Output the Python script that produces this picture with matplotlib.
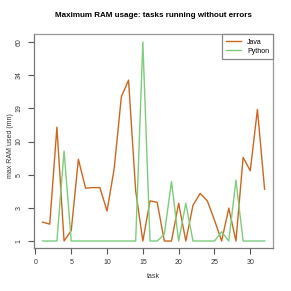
"""
Maximum RAM usage per task, Java vs Python (R-style base plot look).
"""
import numpy as np
import matplotlib
matplotlib.use("Agg")
import matplotlib.pyplot as plt

plt.rcParams["font.family"] = ["Liberation Sans", "DejaVu Sans"]

# data
tasks = np.arange(1, 33)
java_ram = [1.87, 1.75, 13.2, 1.0, 1.41, 6.9, 4.06, 4.1, 4.1, 2.7,
            5.7, 23.3, 31.2, 3.9, 1.0, 3.34, 3.27, 1.0, 1.0, 3.22,
            1.0, 3.12, 3.75, 3.34, 2.0, 1.0, 2.97, 1.0, 7.17, 5.43,
            18.6, 4.0]
python_ram = [1.0, 1.0, 1.0, 8.2, 1.0, 1.0, 1.0, 1.0, 1.0, 1.0,
              1.0, 1.0, 1.0, 1.0, 60.0, 1.0, 1.0, 1.25, 4.5, 1.0,
              3.22, 1.0, 1.0, 1.0, 1.0, 1.36, 1.0, 4.6, 1.0, 1.0,
              1.0, 1.0]
y_ticks = [1, 3, 5, 10, 19, 34, 60]
x_ticks = [0, 5, 10, 15, 20, 25, 30]

JAVA_COLOR = "#CD661D"
PYTHON_COLOR = "#7CCD7C"

# the y labels are evenly spaced, so map log(value) piecewise onto tick index
log_ticks = np.log(y_ticks)
idx = np.arange(len(y_ticks), dtype=float)


def fwd(v):
    v = np.clip(np.asarray(v, dtype=float), 1e-3, None)
    lv = np.log(v)
    out = np.interp(lv, log_ticks, idx)
    # linear extension outside the tick range
    lo = lv < log_ticks[0]
    hi = lv > log_ticks[-1]
    s_lo = (idx[1] - idx[0]) / (log_ticks[1] - log_ticks[0])
    s_hi = (idx[-1] - idx[-2]) / (log_ticks[-1] - log_ticks[-2])
    out = np.where(lo, idx[0] + (lv - log_ticks[0]) * s_lo, out)
    out = np.where(hi, idx[-1] + (lv - log_ticks[-1]) * s_hi, out)
    return out


def inv(t):
    t = np.asarray(t, dtype=float)
    lv = np.interp(t, idx, log_ticks)
    s_lo = (log_ticks[1] - log_ticks[0]) / (idx[1] - idx[0])
    s_hi = (log_ticks[-1] - log_ticks[-2]) / (idx[-1] - idx[-2])
    lv = np.where(t < idx[0], log_ticks[0] + (t - idx[0]) * s_lo, lv)
    lv = np.where(t > idx[-1], log_ticks[-1] + (t - idx[-1]) * s_hi, lv)
    return np.exp(lv)


fig = plt.figure(figsize=(2.91, 2.91), dpi=100)
ax = fig.add_axes([0.1168, 0.1467, 0.822, 0.735])

ax.plot(tasks, java_ram, color=JAVA_COLOR, linewidth=1.0, label="Java")
ax.plot(tasks, python_ram, color=PYTHON_COLOR, linewidth=1.0, label="Python")

ax.set_yscale("function", functions=(fwd, inv))
ax.set_ylim(inv(-0.22), inv(6.23))
ax.set_xlim(-0.2, 33.2)

ax.set_yticks(y_ticks)
ax.set_yticklabels([str(v) for v in y_ticks], rotation=90, va="center")
ax.set_xticks(x_ticks)
ax.set_xticklabels([str(v) for v in x_ticks])
ax.minorticks_off()

ax.tick_params(axis="both", direction="out", length=4, width=0.8,
               color="#555555", labelsize=5, labelcolor="#333333", pad=4)

for side in ("top", "right"):
    ax.spines[side].set_color("#999999")
for side in ("left", "bottom"):
    ax.spines[side].set_color("#777777")
for sp in ax.spines.values():
    sp.set_linewidth(0.9)

ax.set_title("Maximum RAM usage: tasks running without errors",
             fontsize=5.8, fontweight="bold", pad=12.5)
ax.set_xlabel("task", fontsize=5, color="#333333")
ax.set_ylabel("max RAM used (mn)", fontsize=5, color="#333333")
ax.xaxis.set_label_coords(0.5, -0.115)
ax.yaxis.set_label_coords(-0.082, 0.48)

leg = ax.legend(loc="upper right", bbox_to_anchor=(1, 1), borderaxespad=0,
                fontsize=5, fancybox=False, framealpha=1, handlelength=2.2,
                handletextpad=0.8, borderpad=0.6, labelspacing=0.3)
leg.get_frame().set_edgecolor("#888888")
leg.get_frame().set_linewidth(0.9)

fig.savefig("out.png", dpi=100)
